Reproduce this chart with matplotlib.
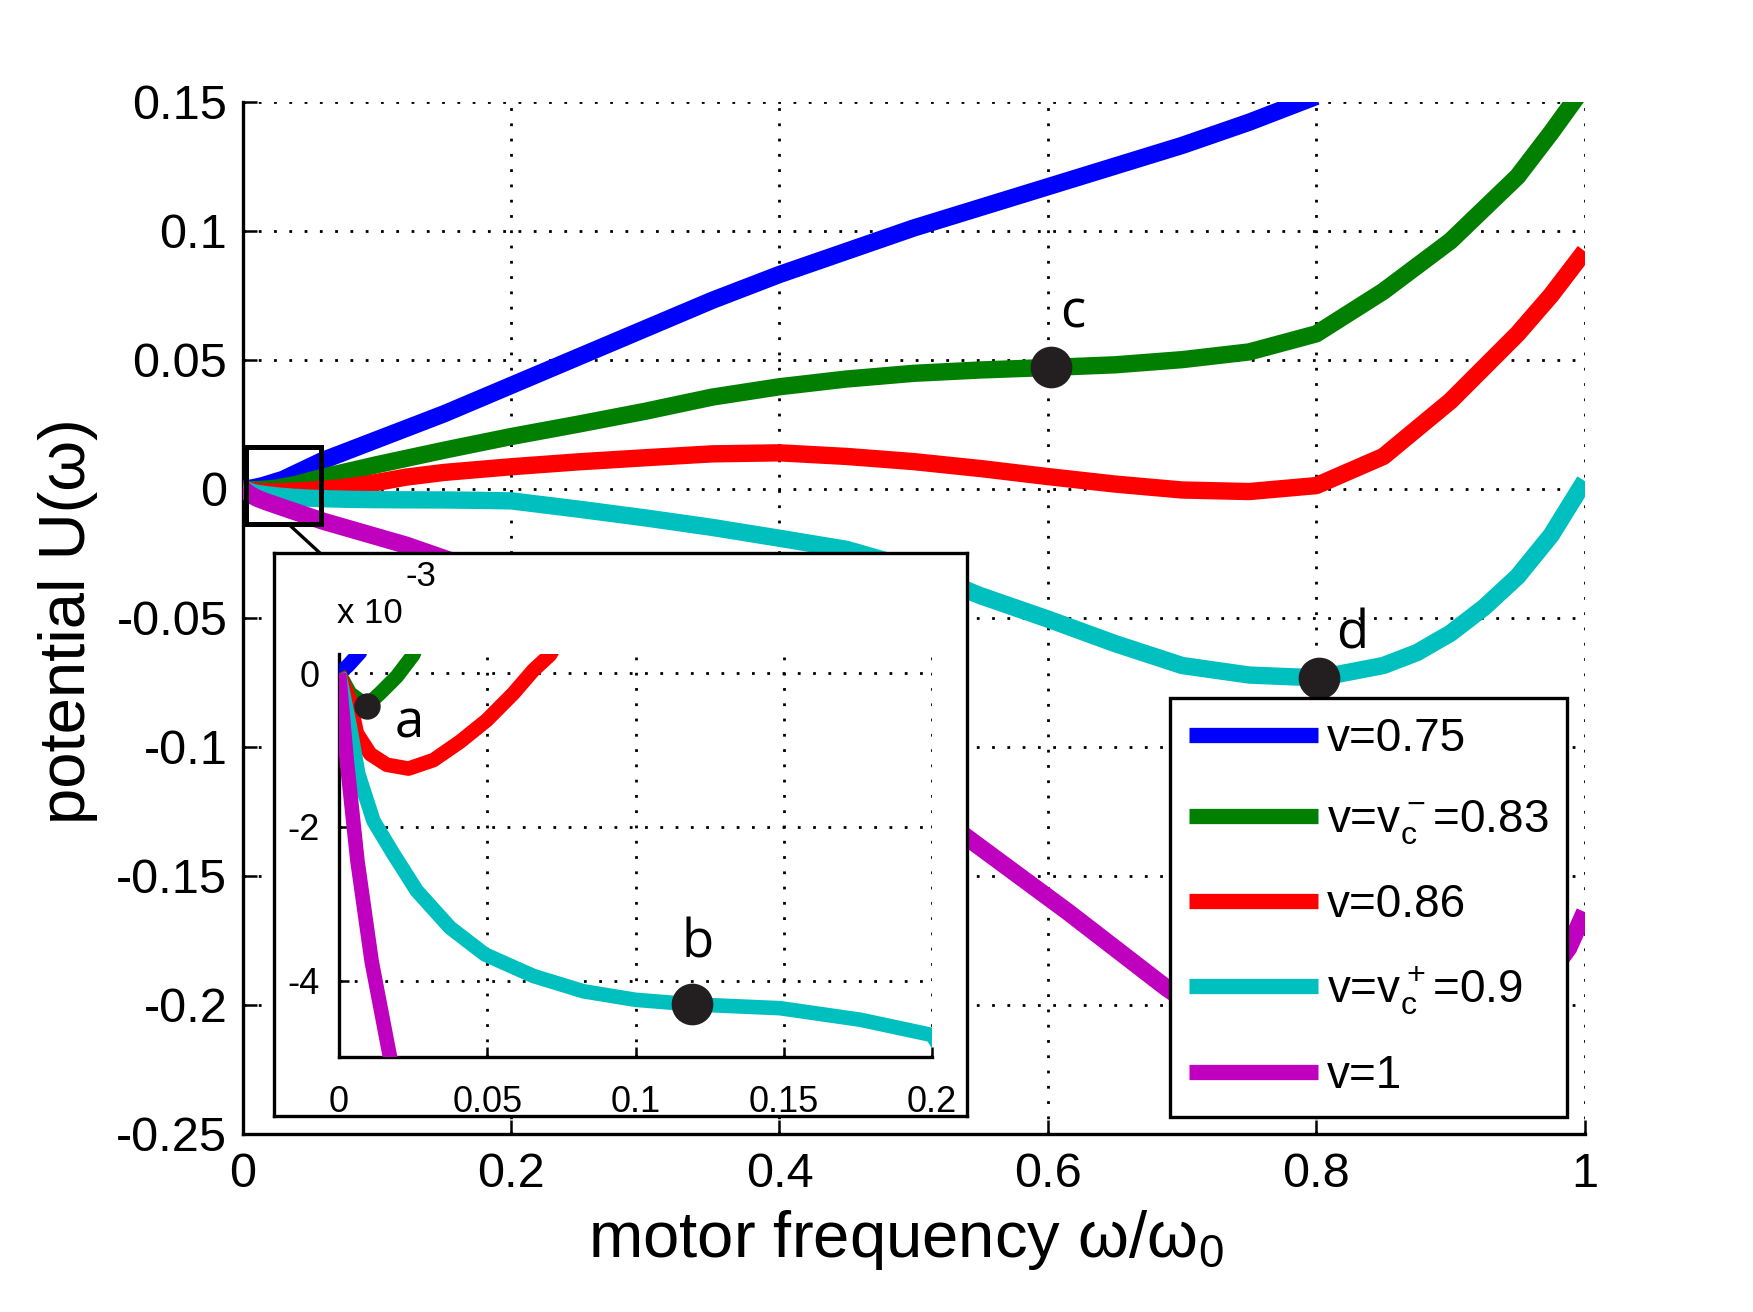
import matplotlib
matplotlib.use('Agg')
import matplotlib.pyplot as plt
from matplotlib.patches import Rectangle, ConnectionPatch
from matplotlib.ticker import FuncFormatter

plt.rcParams['font.family'] = ['Liberation Sans', 'DejaVu Sans']
plt.rcParams['mathtext.default'] = 'regular'
plt.rcParams['axes.unicode_minus'] = False

# --- data: x = omega/omega0, U = potential ---
blue_x = [0, 0.003, 0.007, 0.015, 0.03, 0.06, 0.1, 0.15, 0.2, 0.25, 0.3, 0.35, 0.4, 0.45,
          0.5, 0.55, 0.6, 0.65, 0.7, 0.75, 0.8]
blue_u = [0, 0.0001, 0.00027, 0.0012, 0.0036, 0.011, 0.019, 0.029, 0.040, 0.051, 0.062, 0.073, 0.083, 0.092,
          0.101, 0.109, 0.117, 0.125, 0.133, 0.142, 0.152]

green_x = [0, 0.0037, 0.0093, 0.0138, 0.0195, 0.025, 0.04, 0.06, 0.1, 0.15, 0.2, 0.25, 0.3, 0.35, 0.4,
           0.45, 0.5, 0.55, 0.6025, 0.65, 0.7, 0.75, 0.8, 0.85, 0.9, 0.95, 0.975, 1.0]
green_u = [0, -0.00026, -0.00042, -0.00026, -0.00004, 0.00024, 0.0017, 0.0045, 0.0093, 0.0149, 0.0202, 0.025, 0.030, 0.0355, 0.0395,
           0.0425, 0.0447, 0.046, 0.047, 0.048, 0.050, 0.053, 0.060, 0.0765, 0.096, 0.121, 0.138, 0.156]

red_x = [0, 0.0037, 0.006, 0.0105, 0.0161, 0.0234, 0.0318, 0.0408, 0.0498, 0.0588, 0.0655, 0.0711, 0.09,
         0.122, 0.15, 0.2, 0.25, 0.3, 0.35, 0.4, 0.45, 0.5, 0.55, 0.6, 0.65, 0.7, 0.75, 0.8, 0.85,
         0.9, 0.95, 0.975, 1.0]
red_u = [0, -0.00035, -0.00078, -0.00105, -0.00119, -0.00124, -0.00113, -0.00089, -0.00061, -0.00026, 0.00004, 0.00024, 0.0015,
         0.0045, 0.0063, 0.0085, 0.0104, 0.0120, 0.0135, 0.0139, 0.0125, 0.0105, 0.0078, 0.0047, 0.0018, -0.0005, -0.0011, 0.0012, 0.0125,
         0.034, 0.060, 0.075, 0.092]

cyan_x = [0, 0.0037, 0.0065, 0.0116, 0.0183, 0.0262, 0.0374, 0.0492, 0.0655, 0.0824, 0.0998, 0.1189, 0.1487,
          0.1757, 0.2, 0.225, 0.25, 0.3, 0.35, 0.4, 0.45, 0.5, 0.55, 0.6, 0.65, 0.7, 0.75, 0.802, 0.85,
          0.875, 0.9, 0.925, 0.95, 0.975, 1.0]
cyan_u = [0, -0.0007, -0.00131, -0.00192, -0.00235, -0.00283, -0.00331, -0.00366, -0.00394, -0.00414, -0.00425, -0.00431, -0.00436,
          -0.00451, -0.00471, -0.0063, -0.0079, -0.0113, -0.015, -0.0192, -0.0235, -0.031, -0.0415, -0.0505, -0.060, -0.0685, -0.0722, -0.0733, -0.0685,
          -0.0635, -0.056, -0.046, -0.034, -0.018, 0.003]

magenta_x = [0, 0.0026, 0.0062, 0.011, 0.0172, 0.03, 0.06, 0.122, 0.2, 0.3, 0.4, 0.47, 0.542, 0.615, 0.6885,
             0.75, 0.8, 0.85, 0.9, 0.95, 0.988, 1.0]
magenta_u = [0, -0.00113, -0.00244, -0.00375, -0.005, -0.0073, -0.0126, -0.0219, -0.036, -0.058, -0.086, -0.108, -0.136, -0.164, -0.1935,
             -0.215, -0.227, -0.231, -0.225, -0.205, -0.178, -0.164]

series_x = [blue_x, green_x, red_x, cyan_x, magenta_x]
series_u = [blue_u, green_u, red_u, cyan_u, magenta_u]
colors = ['#0000ff', '#007f00', '#ff0000', '#00bfbf', '#bf00bf']
labels = ['v=0.75', 'v=v$_c^-$=0.83', 'v=0.86', 'v=v$_c^+$=0.9', 'v=1']

# marked points
main_pts_x = [0.6025, 0.802]
main_pts_u = [0.047, -0.0733]
main_pts_lab = ['c', 'd']
inset_pts_x = [0.0093, 0.1189]
inset_pts_u = [-0.00042, -0.00431]
inset_pts_lab = ['a', 'b']
inset_pts_ms = [18, 29]

main_xticks = [0, 0.2, 0.4, 0.6, 0.8, 1]
main_yticks = [0.15, 0.1, 0.05, 0, -0.05, -0.1, -0.15, -0.2, -0.25]
inset_xticks = [0, 0.05, 0.1, 0.15, 0.2]
inset_yticks = [0, -0.002, -0.004]

dot_color = '#231f20'
grid_style = (0, (1, 4.5))

fig = plt.figure(figsize=(17.53, 13.12), dpi=100)

# --- main axes ---
ax = fig.add_axes([0.1384, 0.1357, 0.7656, 0.7869])
for xs, us, c, lab in zip(series_x, series_u, colors, labels):
    ax.plot(xs, us, color=c, lw=12.5, solid_capstyle='butt', solid_joinstyle='round', label=lab, zorder=3)
ax.plot(main_pts_x, main_pts_u, 'o', ms=29, color=dot_color, zorder=4)
ax.text(main_pts_x[0] + 0.007, 0.0623, main_pts_lab[0], fontsize=38, family='Open Sans', zorder=6)
ax.text(main_pts_x[1] + 0.013, -0.062, main_pts_lab[1], fontsize=38, family='Open Sans', zorder=6)

ax.set_xlim(0, 1)
ax.set_ylim(-0.25, 0.15)
ax.set_xticks(main_xticks)
ax.set_yticks(main_yticks)
fmt = FuncFormatter(lambda v, p: '%g' % v)
ax.xaxis.set_major_formatter(fmt)
ax.yaxis.set_major_formatter(fmt)
ax.set_axisbelow(True)
ax.grid(True, color='k', linestyle=grid_style, linewidth=2)
for s in ['top', 'right']:
    ax.spines[s].set_visible(False)
for s in ['left', 'bottom']:
    ax.spines[s].set_linewidth(2.4)
ax.tick_params(direction='in', length=10, width=1.8, labelsize=35)
ax.tick_params(axis='x', pad=13)
ax.tick_params(axis='y', pad=11)

ax.set_xlabel('motor frequency ω/ω$_0$', fontsize=47)
ax.xaxis.set_label_coords(0.494, -0.072)
ax.xaxis.label.set_va('top')
ax.set_ylabel('potential U(ω)', fontsize=47)
ax.yaxis.set_label_coords(-0.108, 0.497)

# zoom box around the origin
ax.add_patch(Rectangle((0.0025, -0.0136), 0.056, 0.0299, fill=False, lw=3.6, ec='k', zorder=5))

leg = ax.legend(loc='upper left', bbox_to_anchor=(0.6674, 0.1489, 0.2263, 0.3189),
                bbox_transform=fig.transFigure, mode='expand', borderaxespad=0,
                fontsize=33, handlelength=2.8, handletextpad=0.2, borderpad=0.42,
                labelspacing=0.8, fancybox=False, framealpha=1, edgecolor='k')
leg.get_frame().set_linewidth(2.4)
for h in leg.get_lines():
    h.set_linewidth(11)

# --- inset ---
frame = fig.add_axes([0.1563, 0.1494, 0.3953, 0.4291], zorder=5)
frame.set_xticks([])
frame.set_yticks([])
for s in frame.spines.values():
    s.set_linewidth(2.4)

fig.add_artist(ConnectionPatch(xyA=(0.034, -0.0136), coordsA=ax.transData,
                               xyB=(0.1825, 0.5785), coordsB=fig.transFigure,
                               lw=2.4, color='k', zorder=7))

ins = fig.add_axes([0.1934, 0.1941, 0.3384, 0.3073], zorder=6)
ins.patch.set_alpha(0)
for xs, us, c in zip(series_x, series_u, colors):
    ins.plot(xs, us, color=c, lw=10.5, solid_capstyle='butt', solid_joinstyle='round', zorder=3)
for px, pu, ms in zip(inset_pts_x, inset_pts_u, inset_pts_ms):
    ins.plot(px, pu, 'o', ms=ms, color=dot_color, zorder=4)
ins.text(0.0189, -0.00083, inset_pts_lab[0], fontsize=38, family='Open Sans', zorder=6)
ins.text(0.1153, -0.0037, inset_pts_lab[1], fontsize=38, family='Open Sans', zorder=6)

ins.set_xlim(0, 0.2)
ins.set_ylim(-0.005, 0.00025)
ins.set_xticks(inset_xticks)
ins.set_yticks(inset_yticks)
ins.xaxis.set_major_formatter(fmt)
ins.yaxis.set_major_formatter(FuncFormatter(lambda v, p: '%g' % round(v * 1e3, 6)))
ins.set_axisbelow(True)
ins.grid(True, color='k', linestyle=grid_style, linewidth=2)
for s in ['top', 'right']:
    ins.spines[s].set_visible(False)
for s in ['left', 'bottom']:
    ins.spines[s].set_linewidth(2.4)
ins.tick_params(direction='in', length=7, width=1.8, labelsize=26)
ins.tick_params(axis='x', pad=20)
ins.tick_params(axis='y', pad=14)

fig.text(0.1921, 0.5249, 'x 10', fontsize=25, zorder=8)
fig.text(0.2316, 0.5534, '-3', fontsize=25, zorder=8)

fig.savefig('out.png', dpi=100)
